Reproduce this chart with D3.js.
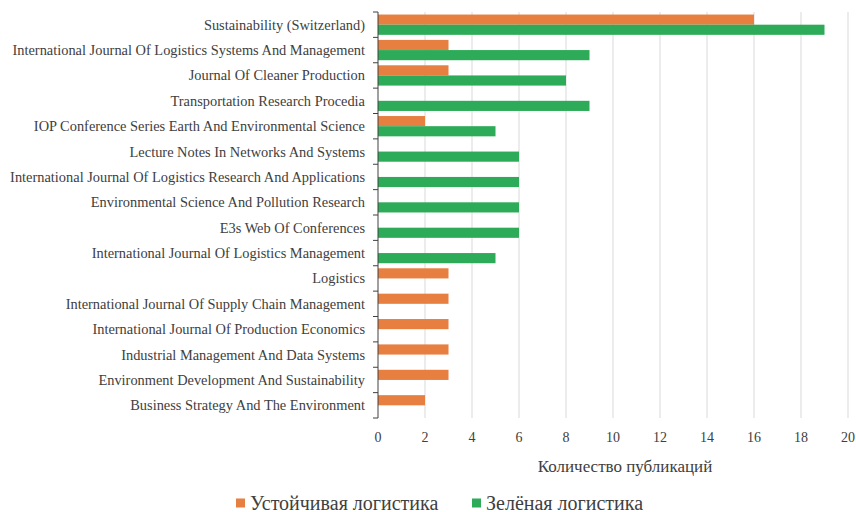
<!DOCTYPE html>
<html>
<head>
<meta charset="utf-8">
<script src="https://cdn.jsdelivr.net/npm/d3@7"></script>
<style>
  body { margin: 0; background: #fff; }
</style>
</head>
<body>
<svg id="chart"></svg>
<script>
const journals = [
  'Sustainability (Switzerland)',
  'International Journal Of Logistics Systems And Management',
  'Journal Of Cleaner Production',
  'Transportation Research Procedia',
  'IOP Conference Series Earth And Environmental Science',
  'Lecture Notes In Networks And Systems',
  'International Journal Of Logistics Research And Applications',
  'Environmental Science And Pollution Research',
  'E3s Web Of Conferences',
  'International Journal Of Logistics Management',
  'Logistics',
  'International Journal Of Supply Chain Management',
  'International Journal Of Production Economics',
  'Industrial Management And Data Systems',
  'Environment Development And Sustainability',
  'Business Strategy And The Environment'
];
const sustainable = [16, 3, 3, 0, 2, 0, 0, 0, 0, 0, 3, 3, 3, 3, 3, 2];
const green = [19, 9, 8, 9, 5, 6, 6, 6, 6, 5, 0, 0, 0, 0, 0, 0];
const seriesNames = ['Устойчивая логистика', 'Зелёная логистика'];
const seriesColors = ['#e67f40', '#2dab58'];
const xTicks = [0, 2, 4, 6, 8, 10, 12, 14, 16, 18, 20];

const width = 856, height = 512;
const plotLeft = 378, plotRight = 848, plotTop = 12, plotBottom = 418;
const serif = 'Liberation Serif';

const svg = d3.select('#chart')
  .attr('width', width)
  .attr('height', height);

const x = d3.scaleLinear().domain([0, 20]).range([plotLeft, plotRight]);
const y = d3.scaleBand().domain(journals).range([plotTop, plotBottom])
  .paddingInner(0.2).paddingOuter(0.1);
const ySub = d3.scaleBand().domain([0, 1]).range([0, y.bandwidth()]);

// vertical gridlines
svg.append('g')
  .selectAll('line')
  .data(xTicks.slice(1))
  .enter()
  .append('line')
  .attr('x1', d => x(d)).attr('x2', d => x(d))
  .attr('y1', plotTop).attr('y2', plotBottom)
  .attr('stroke', '#d9d9d9')
  .attr('stroke-width', 1);

// bars
const rows = journals.map((j, i) => ({name: j, vals: [sustainable[i], green[i]]}));
const groups = svg.append('g')
  .selectAll('g')
  .data(rows)
  .enter()
  .append('g')
  .attr('transform', d => `translate(0,${y(d.name)})`);

groups.selectAll('rect')
  .data(d => d.vals.map((v, k) => ({v, k})).filter(e => e.v > 0))
  .enter()
  .append('rect')
  .attr('x', x(0))
  .attr('y', d => ySub(d.k))
  .attr('width', d => x(d.v) - x(0))
  .attr('height', ySub.bandwidth())
  .attr('fill', d => seriesColors[d.k]);

// y axis line and ticks between categories
const step = (plotBottom - plotTop) / journals.length;
const axisG = svg.append('g');
axisG.append('line')
  .attr('x1', plotLeft).attr('x2', plotLeft)
  .attr('y1', plotTop).attr('y2', plotBottom)
  .attr('stroke', '#404040');
axisG.selectAll('line.tick')
  .data(d3.range(journals.length + 1))
  .enter()
  .append('line')
  .attr('class', 'tick')
  .attr('x1', plotLeft - 5).attr('x2', plotLeft)
  .attr('y1', i => plotTop + i * step).attr('y2', i => plotTop + i * step)
  .attr('stroke', '#404040');

// category labels
svg.append('g')
  .selectAll('text')
  .data(journals)
  .enter()
  .append('text')
  .attr('x', plotLeft - 13)
  .attr('y', d => y(d) + y.bandwidth() / 2 + 5)
  .attr('text-anchor', 'end')
  .attr('fill', '#404040')
  .attr('font-family', serif)
  .attr('font-size', 14.4)
  .text(d => d);

// x tick labels
svg.append('g')
  .selectAll('text')
  .data(xTicks)
  .enter()
  .append('text')
  .attr('x', d => x(d))
  .attr('y', 442)
  .attr('text-anchor', 'middle')
  .attr('fill', '#404040')
  .attr('font-family', serif)
  .attr('font-size', 14)
  .text(d => d);

// axis title
svg.append('text')
  .attr('x', 625)
  .attr('y', 472)
  .attr('text-anchor', 'middle')
  .attr('fill', '#404040')
  .attr('font-family', serif)
  .attr('font-size', 17)
  .text('Количество публикаций');

// legend
const legendX = [236, 472];
const legend = svg.append('g')
  .selectAll('g')
  .data(seriesNames)
  .enter()
  .append('g')
  .attr('transform', (d, i) => `translate(${legendX[i]},503)`);
legend.append('rect')
  .attr('x', 0).attr('y', -4.5)
  .attr('width', 9).attr('height', 9)
  .attr('fill', (d, i) => seriesColors[i]);
legend.append('text')
  .attr('x', 14)
  .attr('y', 6.5)
  .attr('fill', '#404040')
  .attr('font-family', serif)
  .attr('font-size', 20)
  .text(d => d);
</script>
</body>
</html>
